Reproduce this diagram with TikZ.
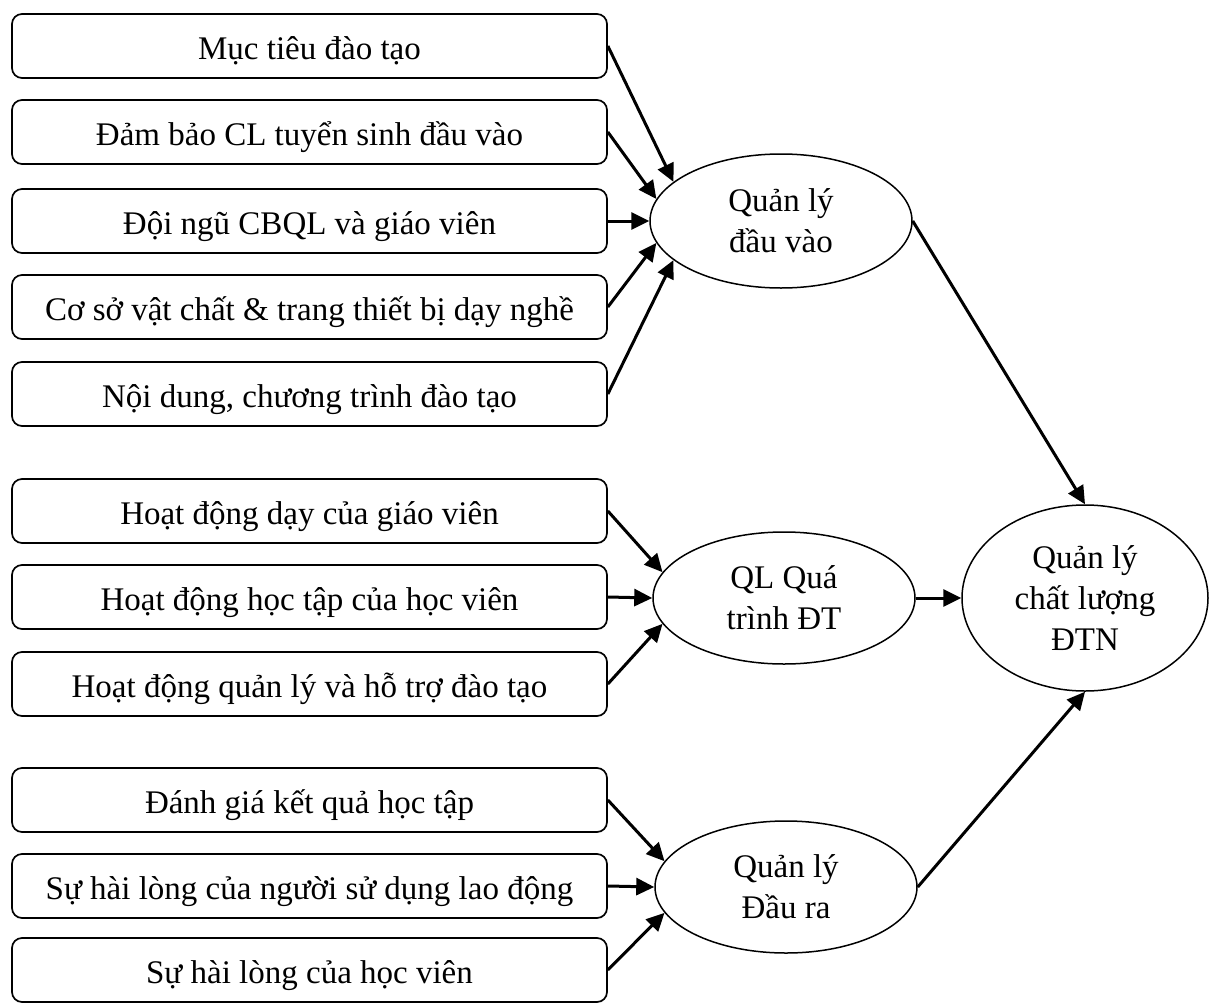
\documentclass[tikz,border=0pt]{standalone}
\usepackage{fontspec}
\setmainfont{Liberation Serif}
\usetikzlibrary{arrows.meta,shapes.geometric}
\begin{document}
\begin{tikzpicture}[x=1pt,y=-1pt,
  txt/.style={font=\fontsize{33}{41}\selectfont},
  box/.style={txt,draw,line width=1.7pt,rounded corners=10pt,minimum width=595pt,minimum height=64pt,inner sep=0pt,text height=27pt,text depth=1pt},
  ell/.style={txt,draw,ellipse,line width=1.5pt,align=center,inner sep=0pt},
  arr/.style={line width=3pt,-{Triangle[length=18pt,width=17pt]}}]
\useasboundingbox (0,0) rectangle (1211,1004);
% boxes
\node[box] (b1) at (309.5,46) {Mục tiêu đào tạo};
\node[box] (b2) at (309.5,132) {Đảm bảo CL tuyển sinh đầu vào};
\node[box] (b3) at (309.5,221) {Đội ngũ CBQL và giáo viên};
\node[box] (b4) at (309.5,307) {Cơ sở vật chất \& trang thiết bị dạy nghề};
\node[box] (b5) at (309.5,394) {Nội dung, chương trình đào tạo};
\node[box] (b6) at (309.5,511) {Hoạt động dạy của giáo viên};
\node[box] (b7) at (309.5,597) {Hoạt động học tập của học viên};
\node[box] (b8) at (309.5,684) {Hoạt động quản lý và hỗ trợ đào tạo};
\node[box] (b9) at (309.5,800) {Đánh giá kết quả học tập};
\node[box] (b10) at (309.5,886) {Sự hài lòng của người sử dụng lao động};
\node[box] (b11) at (309.5,970) {Sự hài lòng của học viên};
% ellipses
\node[ell,minimum width=262pt,minimum height=134pt] (e1) at (781,221) {Quản lý\\đầu vào};
\node[ell,minimum width=262pt,minimum height=132pt] (e2) at (784,598) {QL Quá\\trình ĐT};
\node[ell,minimum width=246pt,minimum height=186pt] (e3) at (1085,598) {Quản lý\\chất lượng\\ĐTN};
\node[ell,minimum width=262pt,minimum height=132pt] (e4) at (786,887) {Quản lý\\Đầu ra};
% arrows group 1
\draw[arr] (b1.east) -- (e1.160);
\draw[arr] (b2.east) -- (e1.170);
\draw[arr] (b3.east) -- (e1.west);
\draw[arr] (b4.east) -- (e1.190);
\draw[arr] (b5.east) -- (e1.200);
% group 2
\draw[arr] (b6.east) -- (e2.168);
\draw[arr] (b7.east) -- (e2.west);
\draw[arr] (b8.east) -- (e2.192);
% group 3
\draw[arr] (b9.east) -- (e4.168);
\draw[arr] (b10.east) -- (e4.west);
\draw[arr] (b11.east) -- (e4.192);
% to final
\draw[arr] (e1.east) -- (e3.north);
\draw[arr] (e2.east) -- (e3.west);
\draw[arr] (e4.east) -- (e3.south);
\end{tikzpicture}
\end{document}
